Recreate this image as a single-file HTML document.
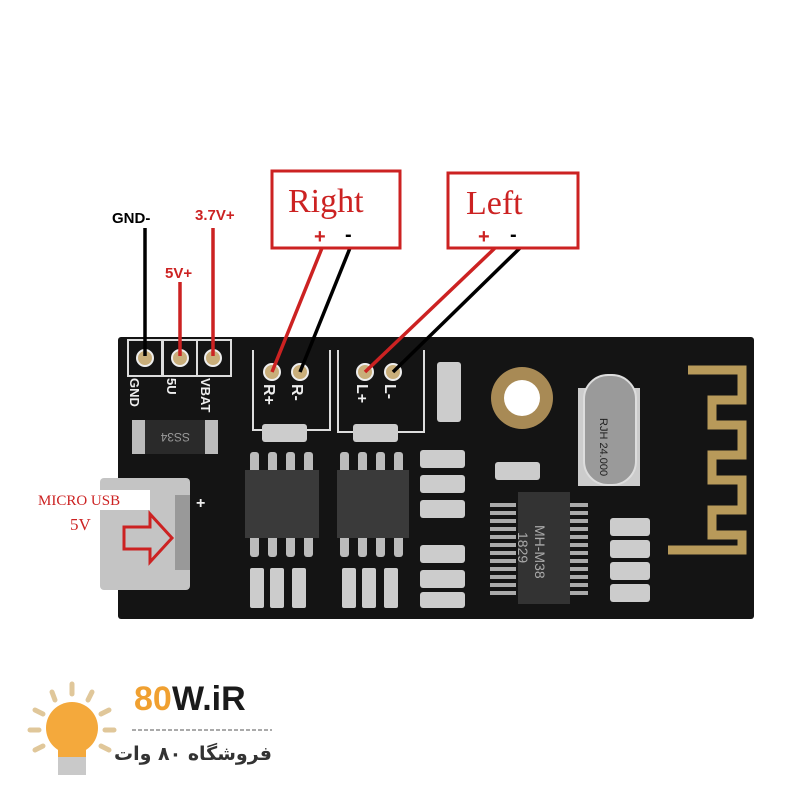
<!DOCTYPE html>
<html><head><meta charset="utf-8"><style>
html,body{margin:0;padding:0;background:#fff;}
svg{display:block;}
</style></head><body>
<svg width="800" height="800" viewBox="0 0 800 800" xmlns="http://www.w3.org/2000/svg">
<rect width="800" height="800" fill="#fff"/>
<rect x="118" y="337" width="636" height="282" rx="3" fill="#141414"/>
<path d="M688 370 H742 V400 H712 V425 H742 V455 H712 V480 H742 V510 H712 V535 H742 V550 H668" fill="none" stroke="#b89a5a" stroke-width="9"/>
<rect x="128" y="340" width="34" height="36" fill="none" stroke="#ddd" stroke-width="2"/>
<rect x="163" y="340" width="34" height="36" fill="none" stroke="#ddd" stroke-width="2"/>
<rect x="197" y="340" width="34" height="36" fill="none" stroke="#ddd" stroke-width="2"/>
<g fill="#c9ae7a" stroke="#eee" stroke-width="2">
<circle cx="145" cy="358" r="8"/><circle cx="180" cy="358" r="8"/><circle cx="213" cy="358" r="8"/>
<circle cx="272" cy="372" r="8"/><circle cx="300" cy="372" r="8"/>
<circle cx="365" cy="372" r="8"/><circle cx="393" cy="372" r="8"/>
</g>
<g fill="#eee" font-family="Liberation Sans, sans-serif" font-weight="bold" font-size="13">
<text transform="translate(130,378) rotate(90)">GND</text>
<text transform="translate(167,378) rotate(90)">5U</text>
<text transform="translate(201,378) rotate(90)">VBAT</text>
<text transform="translate(264,384) rotate(90)" font-size="16">R+</text>
<text transform="translate(292,384) rotate(90)" font-size="16">R-</text>
<text transform="translate(357,384) rotate(90)" font-size="16">L+</text>
<text transform="translate(385,384) rotate(90)" font-size="16">L-</text>
</g>
<path d="M253 350 V430 H330 V350" fill="none" stroke="#ddd" stroke-width="2"/>
<path d="M338 350 V432 H424 V350" fill="none" stroke="#ddd" stroke-width="2"/>
<rect x="132" y="420" width="86" height="34" fill="#bbb"/>
<rect x="145" y="420" width="60" height="34" fill="#2a2a2a"/>
<text x="190" y="443" fill="#999" font-family="Liberation Sans,sans-serif" font-size="12" transform="rotate(180 190 438)">SS34</text>
<g fill="#ccc">
<rect x="262" y="424" width="45" height="18" rx="3"/><rect x="353" y="424" width="45" height="18" rx="3"/>
<rect x="437" y="362" width="24" height="60" rx="3"/>
<rect x="420" y="450" width="45" height="18" rx="3"/><rect x="420" y="475" width="45" height="18" rx="3"/><rect x="420" y="500" width="45" height="18" rx="3"/>
<rect x="420" y="545" width="45" height="18" rx="3"/><rect x="420" y="570" width="45" height="18" rx="3"/><rect x="420" y="592" width="45" height="16" rx="3"/>
<rect x="495" y="462" width="45" height="18" rx="3"/>
<rect x="610" y="518" width="40" height="18" rx="3"/><rect x="610" y="540" width="40" height="18" rx="3"/><rect x="610" y="562" width="40" height="18" rx="3"/><rect x="610" y="584" width="40" height="18" rx="3"/>
<rect x="250" y="568" width="14" height="40" rx="2"/><rect x="270" y="568" width="14" height="40" rx="2"/><rect x="292" y="568" width="14" height="40" rx="2"/>
<rect x="342" y="568" width="14" height="40" rx="2"/><rect x="362" y="568" width="14" height="40" rx="2"/><rect x="384" y="568" width="14" height="40" rx="2"/>
</g>
<g fill="#bbb">
<rect x="250" y="452" width="9" height="22" rx="3"/><rect x="268" y="452" width="9" height="22" rx="3"/><rect x="286" y="452" width="9" height="22" rx="3"/><rect x="304" y="452" width="9" height="22" rx="3"/>
<rect x="250" y="535" width="9" height="22" rx="3"/><rect x="268" y="535" width="9" height="22" rx="3"/><rect x="286" y="535" width="9" height="22" rx="3"/><rect x="304" y="535" width="9" height="22" rx="3"/>
<rect x="340" y="452" width="9" height="22" rx="3"/><rect x="358" y="452" width="9" height="22" rx="3"/><rect x="376" y="452" width="9" height="22" rx="3"/><rect x="394" y="452" width="9" height="22" rx="3"/>
<rect x="340" y="535" width="9" height="22" rx="3"/><rect x="358" y="535" width="9" height="22" rx="3"/><rect x="376" y="535" width="9" height="22" rx="3"/><rect x="394" y="535" width="9" height="22" rx="3"/>
</g>
<rect x="245" y="470" width="74" height="68" fill="#3a3a3a"/>
<rect x="337" y="470" width="72" height="68" fill="#3a3a3a"/>
<g stroke="#aaa" stroke-width="4">
<path d="M490 505 H516 M490 513 H516 M490 521 H516 M490 529 H516 M490 537 H516 M490 545 H516 M490 553 H516 M490 561 H516 M490 569 H516 M490 577 H516 M490 585 H516 M490 593 H516"/>
<path d="M560 505 H588 M560 513 H588 M560 521 H588 M560 529 H588 M560 537 H588 M560 545 H588 M560 553 H588 M560 561 H588 M560 569 H588 M560 577 H588 M560 585 H588 M560 593 H588"/>
</g>
<rect x="518" y="492" width="52" height="112" fill="#333"/>
<text transform="translate(535,525) rotate(90)" fill="#aaa" font-family="Liberation Sans,sans-serif" font-size="14">MH-M38</text>
<text transform="translate(518,532) rotate(90)" fill="#aaa" font-family="Liberation Sans,sans-serif" font-size="14">1829</text>
<circle cx="522" cy="398" r="31" fill="#a88a55"/>
<circle cx="522" cy="398" r="18" fill="#fff"/>
<rect x="578" y="388" width="62" height="98" fill="#ccc"/>
<rect x="584" y="375" width="52" height="110" rx="24" fill="#9a9a9a" stroke="#ddd" stroke-width="2"/>
<text transform="translate(600,418) rotate(90)" fill="#222" font-family="Liberation Sans,sans-serif" font-size="11">RJH 24.000</text>
<rect x="100" y="478" width="90" height="112" rx="4" fill="#c4c4c4"/>
<rect x="175" y="495" width="15" height="75" fill="#999"/>
<rect x="100" y="490" width="50" height="20" fill="#fff"/>
<text x="38" y="505" fill="#cc2222" font-family="Liberation Serif,serif" font-size="15">MICRO USB</text>
<text x="70" y="530" fill="#cc2222" font-family="Liberation Serif,serif" font-size="17">5V</text>
<path d="M124 527 H150 V514 L172 538 L150 562 V549 H124 Z" fill="none" stroke="#cc2222" stroke-width="3"/>
<text x="196" y="508" fill="#eee" font-family="Liberation Sans,sans-serif" font-size="16" font-weight="bold">+</text>
<g stroke-width="3.5" fill="none">
<line x1="145" y1="228" x2="145" y2="356" stroke="#000"/>
<line x1="180" y1="282" x2="180" y2="356" stroke="#cc2222"/>
<line x1="213" y1="228" x2="213" y2="356" stroke="#cc2222"/>
<line x1="322" y1="248" x2="272" y2="372" stroke="#cc2222"/>
<line x1="350" y1="248" x2="300" y2="372" stroke="#000"/>
<line x1="495" y1="248" x2="365" y2="372" stroke="#cc2222"/>
<line x1="520" y1="248" x2="393" y2="372" stroke="#000"/>
</g>
<g font-family="Liberation Sans,sans-serif" font-weight="bold" font-size="15">
<text x="112" y="223" fill="#000">GND-</text>
<text x="195" y="220" fill="#cc2222">3.7V+</text>
<text x="165" y="278" fill="#cc2222">5V+</text>
</g>
<rect x="272" y="171" width="128" height="77" fill="#fff" stroke="#cc2222" stroke-width="3"/>
<text x="288" y="212" fill="#cc2222" font-family="Liberation Serif,serif" font-size="34">Right</text>
<text x="314" y="243" fill="#cc2222" font-family="Liberation Sans,sans-serif" font-weight="bold" font-size="20">+</text>
<text x="345" y="241" fill="#000" font-family="Liberation Sans,sans-serif" font-weight="bold" font-size="20">-</text>
<rect x="448" y="173" width="130" height="75" fill="#fff" stroke="#cc2222" stroke-width="3"/>
<text x="466" y="214" fill="#cc2222" font-family="Liberation Serif,serif" font-size="34">Left</text>
<text x="478" y="243" fill="#cc2222" font-family="Liberation Sans,sans-serif" font-weight="bold" font-size="20">+</text>
<text x="510" y="241" fill="#000" font-family="Liberation Sans,sans-serif" font-weight="bold" font-size="20">-</text>
<g stroke="#e0c79a" stroke-width="5" stroke-linecap="round">
<line x1="52" y1="692" x2="55" y2="700"/><line x1="72" y1="684" x2="72" y2="694"/><line x1="92" y1="692" x2="88" y2="700"/>
<line x1="35" y1="710" x2="43" y2="714"/><line x1="109" y1="710" x2="101" y2="714"/>
<line x1="30" y1="730" x2="39" y2="730"/><line x1="114" y1="730" x2="105" y2="730"/>
<line x1="35" y1="750" x2="43" y2="746"/><line x1="109" y1="750" x2="101" y2="746"/>
</g>
<circle cx="72" cy="728" r="26" fill="#f4a93c"/>
<rect x="58" y="745" width="28" height="12" fill="#f4a93c"/>
<rect x="58" y="757" width="28" height="18" fill="#c9c9c9"/>
<text x="134" y="710" fill="#f0a030" font-family="Liberation Sans,sans-serif" font-weight="bold" font-size="34">80</text>
<text x="172" y="710" fill="#1a1a1a" font-family="Liberation Sans,sans-serif" font-weight="bold" font-size="34">W.iR</text>
<line x1="132" y1="730" x2="272" y2="730" stroke="#aaa" stroke-width="2" stroke-dasharray="4 2"/>
<text x="272" y="760" text-anchor="end" fill="#333" font-family="DejaVu Sans,sans-serif" font-weight="bold" font-size="19">فروشگاه ۸۰ وات</text>
</svg>
</body></html>
